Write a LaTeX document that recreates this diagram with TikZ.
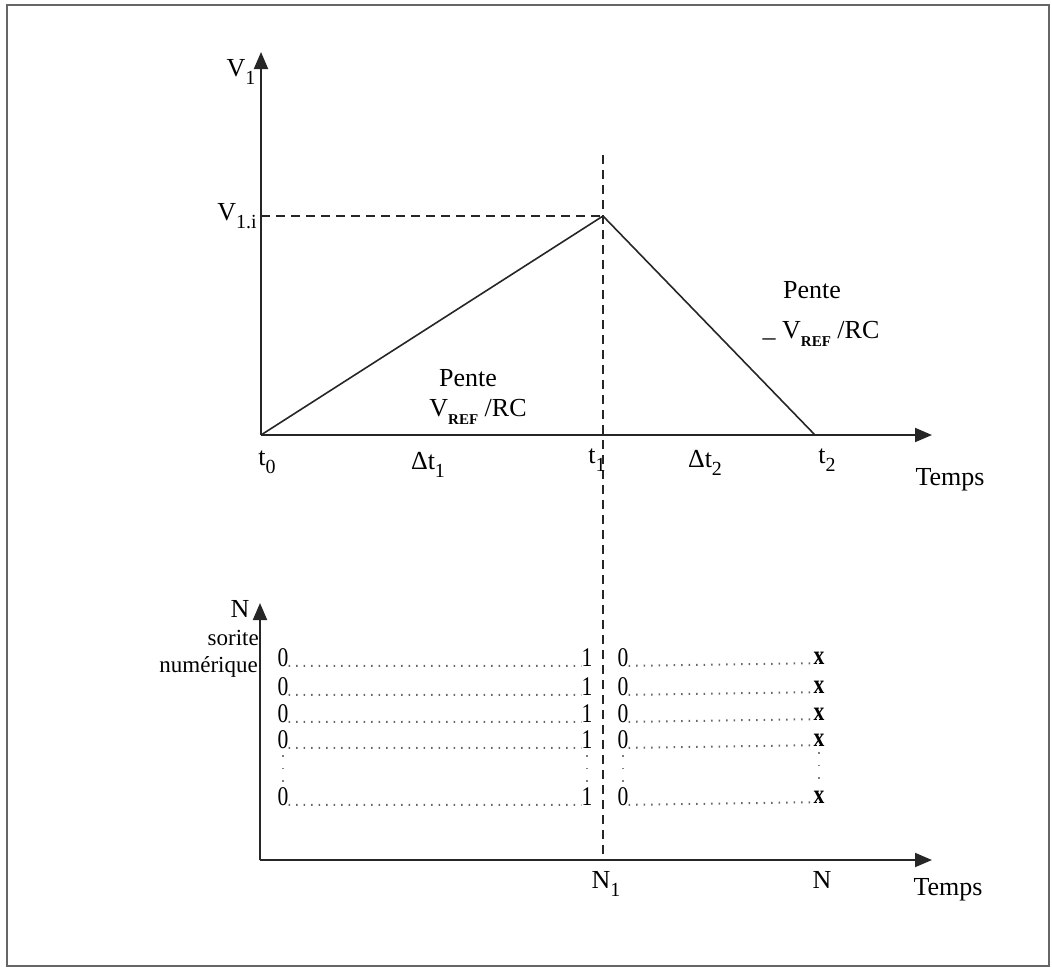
\documentclass[tikz,border=0pt]{standalone}
\usepackage{fontspec}
\setmainfont{Liberation Serif}
\usetikzlibrary{arrows.meta}
\newcommand{\lowsub}[2][20]{\raisebox{-0.3em}{\fontsize{#1}{#1}\selectfont #2}}
\newcommand{\dg}[1]{\scalebox{0.8}[1]{#1}}
\begin{document}
\begin{tikzpicture}[x=1pt,y=-1pt,
  every node/.style={inner sep=0pt, font=\fontsize{26}{30}\selectfont},
  axis/.style={line width=1.9pt, draw=black!85, -{Triangle[length=17pt,width=14pt]}},
  slope/.style={line width=1.6pt, draw=black!85},
  guide/.style={line width=1.5pt, draw=black!85, dash pattern=on 9pt off 6pt},
  dots/.style={line width=2pt, draw=black!60, dash pattern=on 1.5pt off 6pt},
  vdots/.style={line width=2pt, draw=black!50, dash pattern=on 1.5pt off 11pt},
  dig/.style={font=\fontsize{27}{27}\selectfont},
  small/.style={font=\fontsize{23}{27}\selectfont}
]
\useasboundingbox (0,0) rectangle (1052,970);
\draw[line width=2pt, black!60] (7,5) rectangle (1049,966);

% ---- top graph ----
\coordinate (O1) at (261,435);
\coordinate (Y1) at (261,52);
\coordinate (X1) at (932,435);
\coordinate (P) at (603,216);
\coordinate (Vi) at (261,216);
\coordinate (T2) at (815,435);
\coordinate (Dtop) at (603,155);
\coordinate (Dbot) at (603,858);

\draw[axis] (O1) -- (Y1);
\draw[axis] (O1) -- (X1);
\draw[slope] (O1) -- (P) -- (T2);
\draw[guide] (Vi) -- (P);
\draw[guide] (Dtop) -- (Dbot);

\node (v1) at (241,72) {V\lowsub{1}};
\node[anchor=east] (v1i) at (257,216) {V\lowsub{1.i}};
\node (t0) at (267,462) {t\lowsub{0}};
\node (dt1) at (428,465) {Δt\lowsub{1}};
\node (t1) at (597,460) {t\lowsub{1}};
\node (dt2) at (705,463) {Δt\lowsub{2}};
\node (t2) at (827,460) {t\lowsub{2}};
\node (temps1) at (950,480) {Temps};
\node (pl) at (468,378) {Pente};
\node (vl) at (478,412) {V\lowsub[15]{\textbf{REF}} /RC};
\node (pr) at (812,290) {Pente};
\node (vr) at (821,334) {\raisebox{-0.25em}{–} V\lowsub[15]{\textbf{REF}} /RC};

% ---- bottom graph ----
\coordinate (O2) at (260,860);
\coordinate (Y2) at (260,603);
\coordinate (X2) at (932,860);
\draw[axis] (O2) -- (Y2);
\draw[axis] (O2) -- (X2);

\node (nlab) at (240,609) {N};
\node[small, anchor=east] (sor) at (259,638) {sorite};
\node[small, anchor=east] (num) at (258,667) {numérique};

\foreach \i/\y in {1/658,2/687,3/714,4/740,5/797} {
  \node[dig] (a\i) at (283,\y) {\dg{0}};
  \node[dig] (b\i) at (587,\y) {\dg{1}};
  \node[dig] (c\i) at (623,\y) {\dg{0}};
  \node[dig] (d\i) at (819,\y) {\dg{\bfseries x}};
  \draw[dots] ([yshift=1pt]a\i.base east) -- ([yshift=1pt]b\i.base west);
  \draw[dots] ([yshift=1pt]c\i.base east) -- ([yshift=1pt]d\i.base west);
}
\draw[vdots] ([yshift=-6pt]a4.south) -- ([yshift=4pt]a5.north);
\draw[vdots] ([yshift=-6pt]b4.south) -- ([yshift=4pt]b5.north);
\draw[vdots] ([yshift=-6pt]c4.south) -- ([yshift=4pt]c5.north);
\draw[vdots] ([yshift=-6pt]d4.south) -- ([yshift=4pt]d5.north);

\node (n1) at (606,884) {N\lowsub{1}};
\node (nn) at (822,880) {N};
\node (temps2) at (948,890) {Temps};
\end{tikzpicture}
\end{document}
